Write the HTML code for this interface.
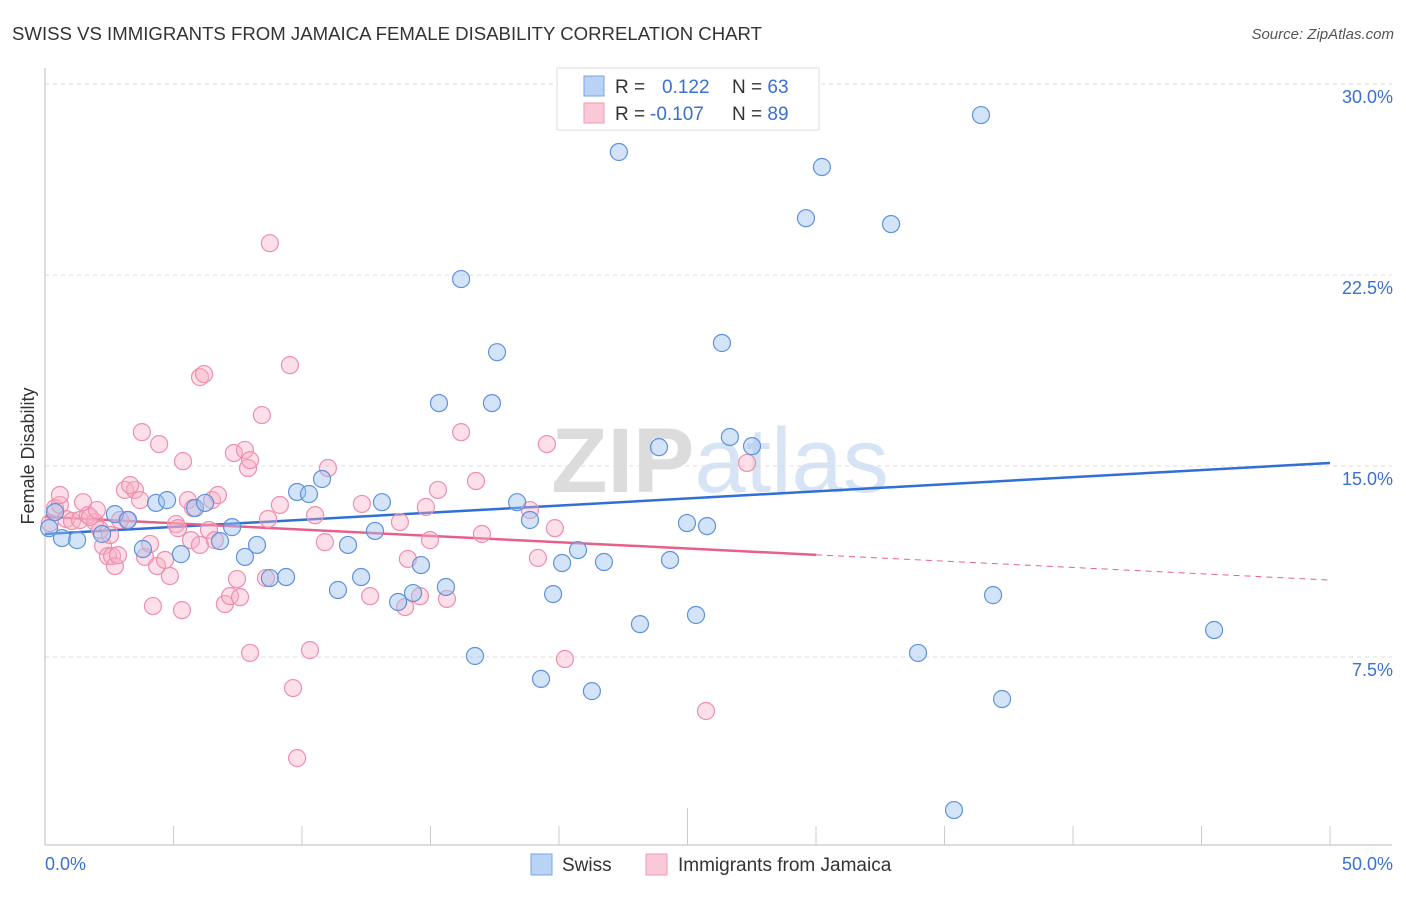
<!DOCTYPE html>
<html><head><meta charset="utf-8"><style>
body{margin:0;background:#fff;font-family:"Liberation Sans",sans-serif;}
svg text{font-family:"Liberation Sans",sans-serif;}
</style></head><body>
<svg id="chart" width="1406" height="892">
<text x="12" y="40" font-size="18" fill="#333" textLength="750" lengthAdjust="spacingAndGlyphs">SWISS VS IMMIGRANTS FROM JAMAICA FEMALE DISABILITY CORRELATION CHART</text>
<text x="1394" y="39" font-size="15" fill="#555" font-style="italic" text-anchor="end">Source: ZipAtlas.com</text>
<text x="720" y="492" font-size="92" fill="#e2e2e2" text-anchor="middle" font-family="Liberation Serif"><tspan font-weight="bold" fill="#dcdcdc">ZIP</tspan><tspan fill="#d6e4f5" font-family="Liberation Sans">atlas</tspan></text>
<g id="grid"></g><g id="axes"></g>
<text transform="translate(34,456) rotate(-90)" font-size="18" fill="#333" text-anchor="middle">Female Disability</text>
<g id="trend"></g><g id="pts"></g>
<g>
<rect x="557" y="68" width="262" height="62" fill="#fff" stroke="#ddd"/>
<rect x="584" y="76" width="20" height="20" fill="#b8d3f5" stroke="#7aa6e3"/>
<rect x="584" y="103" width="20" height="20" fill="#fbc8d7" stroke="#ef9ab5"/>
<text x="615" y="93" font-size="19" fill="#333">R = <tspan x="662" fill="#3a70d0">0.122</tspan><tspan x="732" fill="#333">N = </tspan><tspan fill="#3a70d0">63</tspan></text>
<text x="615" y="120" font-size="19" fill="#333">R = <tspan x="650" fill="#3a70d0">-0.107</tspan><tspan x="732" fill="#333">N = </tspan><tspan fill="#3a70d0">89</tspan></text>
</g>
<g>
<rect x="531" y="854" width="21" height="21" fill="#b8d3f5" stroke="#7aa6e3"/>
<text x="562" y="871" font-size="19" fill="#333">Swiss</text>
<rect x="646" y="854" width="21" height="21" fill="#fbc8d7" stroke="#ef9ab5"/>
<text x="678" y="871" font-size="19" fill="#333">Immigrants from Jamaica</text>
</g>
</svg>
<script>
const yTicks=[7.5,15,22.5,30];
const yTickLabels=["7.5%","15.0%","22.5%","30.0%"];
const xTickLabels=["0.0%","50.0%"];
const swissX=[0.39,0.66,1.25,2.22,2.72,3.23,3.81,4.32,4.75,5.29,5.84,6.23,6.81,7.28,7.78,8.25,8.75,9.38,9.81,10.27,10.78,11.40,11.79,12.30,12.84,13.11,13.74,14.32,14.63,15.60,15.33,16.19,16.73,17.39,17.59,18.37,18.87,19.30,19.77,20.12,20.74,21.28,21.75,22.33,23.15,23.89,24.32,24.98,25.33,25.76,26.34,26.65,27.51,29.61,30.23,32.92,33.97,36.42,36.89,37.24,45.49,35.37,0.16];
const swissY=[13.19,12.17,12.09,12.33,13.11,12.88,11.74,13.55,13.66,11.54,13.35,13.55,12.05,12.60,11.43,11.90,10.60,10.64,13.98,13.90,14.49,10.13,11.90,10.64,12.45,13.58,9.66,10.01,11.11,10.25,17.47,22.34,7.54,17.47,19.47,13.58,12.88,6.64,9.97,11.19,11.70,6.16,11.23,27.33,8.79,15.74,11.31,12.76,9.15,12.64,19.83,16.14,15.78,24.73,26.74,24.50,7.66,28.78,9.93,5.85,8.56,1.49,12.56];
const jamX=[0.19,0.39,0.58,0.82,1.05,1.36,1.48,1.67,1.95,2.14,2.26,2.45,2.61,2.72,2.84,3.11,3.19,3.50,3.70,3.89,3.77,4.09,4.20,4.36,4.44,4.67,4.86,5.10,5.18,5.33,5.37,5.56,5.68,5.76,6.03,6.19,6.38,6.50,6.73,7.00,7.20,7.47,7.59,7.35,7.78,7.90,7.98,8.44,8.60,8.68,8.75,9.14,9.53,9.65,9.81,10.31,10.51,10.89,11.01,12.33,12.65,13.81,14.01,14.12,14.59,14.82,14.98,15.29,15.64,16.19,16.77,17.00,18.87,19.18,19.53,19.84,20.23,25.72,27.32,0.58,1.75,2.02,2.53,2.92,3.31,6.03,6.61,7.98];
const jamY=[12.76,13.35,13.47,12.92,12.84,12.88,13.58,13.07,12.80,12.49,11.86,11.46,11.46,11.07,11.50,14.06,12.88,14.06,13.66,11.43,16.33,11.94,9.50,11.07,15.86,11.31,10.68,12.72,12.56,9.34,15.19,13.66,12.09,13.35,18.49,18.61,12.49,13.66,13.86,9.58,9.89,10.56,9.85,15.51,15.63,14.92,7.66,17.00,10.60,12.92,23.75,13.47,18.96,6.28,3.53,7.77,13.07,12.01,14.92,13.51,9.89,12.80,9.46,11.35,9.89,13.39,12.09,14.06,9.78,16.33,14.41,12.33,13.27,11.39,15.86,12.56,7.42,5.38,15.12,13.86,13.00,13.27,12.29,12.88,14.25,11.90,12.09,15.23];
const swissTrend=[12.33,15.12];
const jamTrend=[13.0,10.52];
const jamSolidEnd=30.0;
const NS="http://www.w3.org/2000/svg";
const X0=45,X1=1330,Y0=848,YS=191/7.5;
const xs=v=>X0+v*(X1-X0)/50, ys=v=>Y0-v*YS;
function mk(t,a,p){const e=document.createElementNS(NS,t);for(const k in a)e.setAttribute(k,a[k]);p.appendChild(e);return e;}
const grid=document.getElementById('grid'),axes=document.getElementById('axes');
yTicks.forEach((v,i)=>{
 const l=mk('line',{x1:X0,x2:1392,y1:ys(v),y2:ys(v),stroke:'#ddd','stroke-dasharray':'4,4'},grid);
 
 
 const t=mk('text',{x:1393,y:ys(v)+19,'font-size':18,fill:'#3a70d0','text-anchor':'end'},axes);
 t.textContent=yTickLabels[i];
 
 
});
mk('line',{x1:X0,x2:X0,y1:68,y2:845,stroke:'#bbb'},axes);
mk('line',{x1:X0,x2:1392,y1:845,y2:845,stroke:'#bbb'},axes);
for(let i=1;i<=10;i++){const x=xs(i*5);mk('line',{x1:x,x2:x,y1:i==5?808:826,y2:845,stroke:'#ccc'},axes);}
[0,50].forEach((v,i)=>{const t=mk('text',{x:i?1393:45,y:870,'font-size':18,fill:'#3a70d0','text-anchor':i?'end':'start'},axes);t.textContent=xTickLabels[i];
 
 });
const tr=document.getElementById('trend');
const jy=x=>jamTrend[0]+(jamTrend[1]-jamTrend[0])*x/50;
const bl=mk('line',{x1:xs(0),y1:ys(swissTrend[0]),x2:xs(50),y2:ys(swissTrend[1]),stroke:'#2f6fd6','stroke-width':2.5},tr);


const pl=mk('line',{x1:xs(0),y1:ys(jy(0)),x2:xs(jamSolidEnd),y2:ys(jy(jamSolidEnd)),stroke:'#e8608a','stroke-width':2.5},tr);


const pd=mk('line',{x1:xs(jamSolidEnd),y1:ys(jy(jamSolidEnd)),x2:xs(50),y2:ys(jy(50)),stroke:'#e8608a','stroke-width':1,'stroke-dasharray':'6,5'},tr);


const pts=document.getElementById('pts');
jamX.forEach((x,i)=>{const c=mk('circle',{cx:xs(x),cy:ys(jamY[i]),r:8.5,fill:'rgba(248,175,198,0.4)',stroke:'#ee8fad','stroke-width':1.2},pts);
 
 });
swissX.forEach((x,i)=>{const c=mk('circle',{cx:xs(x),cy:ys(swissY[i]),r:8.5,fill:'rgba(160,196,240,0.45)',stroke:'#5f92dc','stroke-width':1.2},pts);
 
 });
</script>
</body></html>
